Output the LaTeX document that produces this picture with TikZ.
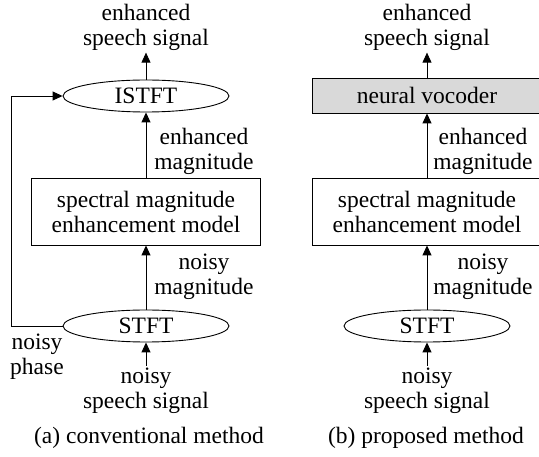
\documentclass[tikz,border=0pt]{standalone}
\usepackage{fontspec}
\setmainfont{Liberation Serif}
\usepackage{tikz}
\usetikzlibrary{arrows.meta,shapes.geometric}

\begin{document}
\begin{tikzpicture}[x=1pt, y=-1pt,
    font=\rmfamily\fontsize{23.5}{25}\selectfont,
    >={Triangle[length=10pt,width=9pt]},
    every path/.style={line width=0.9pt},
    txt/.style={align=center, inner sep=2pt},
    oval/.style={draw, ellipse, minimum width=166pt, minimum height=32pt, inner sep=0pt},
    block/.style={draw, minimum width=229pt, minimum height=67pt, align=center, inner sep=0pt},
    vocbox/.style={draw, fill=black!15, minimum width=229pt, minimum height=35pt, inner sep=0pt}]

\useasboundingbox (0,0) rectangle (539,457);

% Left: conventional method
\node[txt] (out1) at (146,27) {enhanced\\speech signal};
\node[oval] (istft1) at (146,96) {ISTFT};
\node[block] (model1) at (146,211.5) {spectral magnitude\\enhancement model};
\node[oval] (stft1) at (146,326) {STFT};
\node[txt] (in1) at (146,391) {noisy\\speech signal};
\node (capa) at (149,438) {(a) conventional method};

\draw[->] (istft1) -- (out1);
\draw[->] (model1) -- (istft1);
\draw[->] (stft1) -- (model1);
\draw[->] (in1) -- (stft1);
\draw[->] (stft1.west) -- ++(-51,0) |- (istft1.west);  % phase goes round

% Labels for the left arrows
\node[txt] (lab1) at (204,151) {enhanced\\magnitude};
\node[txt] (lab2) at (204,277) {noisy\\magnitude};
\node[txt] (lab3) at (37,357) {noisy\\phase};

% Right: proposed method
\node[txt] (out2) at (427,27) {enhanced\\speech signal};
\node[vocbox] (voc) at (427,95.5) {neural vocoder};
\node[block] (model2) at (427,211.5) {spectral magnitude\\enhancement model};
\node[oval] (stft2) at (427,326) {STFT};
\node[txt] (in2) at (427,391) {noisy\\speech signal};
\node (capb) at (426,438) {(b) proposed method};

\draw[->] (voc) -- (out2);
\draw[->] (model2) -- (voc);
\draw[->] (stft2) -- (model2);
\draw[->] (in2) -- (stft2);

% Labels for the right arrows
\node[txt] (lab4) at (483,151) {enhanced\\magnitude};
\node[txt] (lab5) at (483,277) {noisy\\magnitude};

\end{tikzpicture}
\end{document}
